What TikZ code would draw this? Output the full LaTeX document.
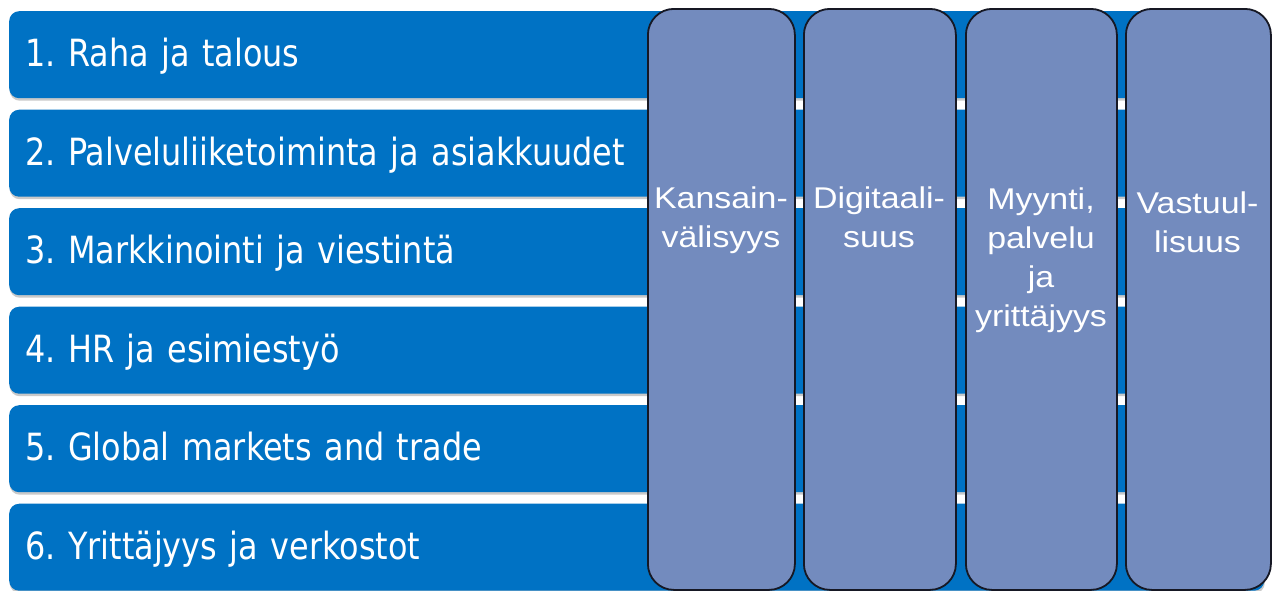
\documentclass[tikz,border=0pt]{standalone}
\usepackage{fontspec}
\usetikzlibrary{shadows}
\newfontfamily\barfont[FakeStretch=0.85,WordSpace=0.8]{DejaVu Sans}
\newfontfamily\boxfont[FakeStretch=1.13]{Liberation Sans}
\definecolor{barblue}{RGB}{0,114,196}
\definecolor{boxfill}{RGB}{115,139,190}
\definecolor{boxline}{RGB}{22,24,36}
\tikzset{
  barbox/.style={anchor=north west, fill=barblue, rounded corners=10pt,
    minimum width=1255pt, minimum height=87pt, text width=1223pt,
    inner xsep=16pt, inner ysep=0pt, align=left, text=white,
    font=\barfont\frenchspacing\fontsize{37.5pt}{44pt}\selectfont,
    text height=27.5pt, text depth=3pt,
    drop shadow={shadow xshift=0.5pt, shadow yshift=-2.5pt, opacity=0.35, fill=black!60}},
  colbox/.style={anchor=north west, fill=boxfill, draw=boxline, line width=1.8pt,
    rounded corners=26pt, minimum height=581pt, inner sep=0pt},
  coltext/.style={anchor=base, align=center, text=white, inner sep=0pt,
    font=\boxfont\fontsize{30pt}{39pt}\selectfont}
}
\begin{document}
\begin{tikzpicture}[x=1pt,y=-1pt]
\useasboundingbox (0,0) rectangle (1272,590);
\fill[white] (0,0) rectangle (1272,590);
\node[barbox] (b1) at (9,11) {1. Raha ja talous};
\node[barbox] (b2) at (9,109.5) {2. Palveluliiketoiminta ja asiakkuudet};
\node[barbox] (b3) at (9,208) {3. Markkinointi ja viestintä};
\node[barbox] (b4) at (9,306.5) {4. HR ja esimiestyö};
\node[barbox] (b5) at (9,405) {5. Global markets and trade};
\node[barbox] (b6) at (9,503.5) {6. Yrittäjyys ja verkostot};
\node[colbox, minimum width=147pt] (c1) at (647,8) {};
\node[colbox, minimum width=152pt] (c2) at (803,8) {};
\node[colbox, minimum width=151pt] (c3) at (965,8) {};
\node[colbox, minimum width=145pt] (c4) at (1125,8) {};
\node[coltext] (t1) at (721,247) {Kansain-\\välisyys};
\node[coltext] (t2) at (879,247) {Digitaali-\\suus};
\node[coltext] (t3) at (1041,326) {Myynti,\\palvelu\\ja\\yrittäjyys};
\node[coltext] (t4) at (1197.5,252) {Vastuul-\\lisuus};
\end{tikzpicture}
\end{document}
